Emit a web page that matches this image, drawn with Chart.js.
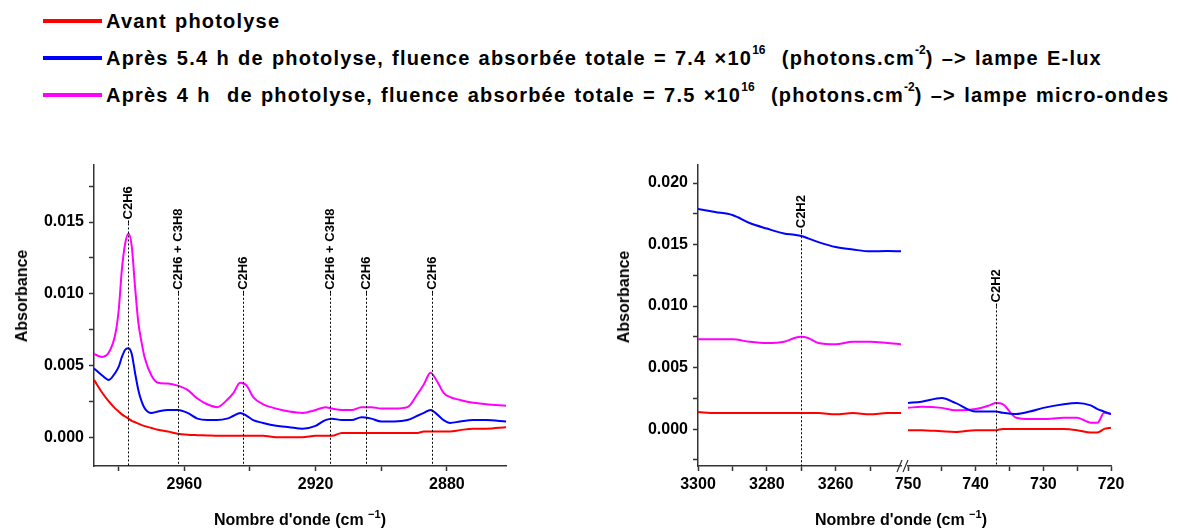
<!DOCTYPE html>
<html>
<head>
<meta charset="utf-8">
<script src="https://cdn.jsdelivr.net/npm/chart.js@4/dist/chart.umd.min.js"></script>
<style>
  body { margin: 0; width: 1179px; height: 531px; background: #fff; position: relative; overflow: hidden;
         font-family: "Liberation Sans", Arial, sans-serif; color: #000; }
  .leg { position: absolute; left: 43px; height: 24px; display: flex; align-items: center;
         font-weight: bold; font-size: 20px; letter-spacing: 1.2px; word-spacing: 1.4px; white-space: nowrap; }
  .leg i { display: inline-block; width: 59px; height: 4px; margin-right: 4px; flex: none; }
  .leg sup { font-size: 12px; line-height: 0; vertical-align: 11px; letter-spacing: 0; }
  canvas { position: absolute; }
  .title { position: absolute; font-weight: bold; font-size: 16px; white-space: nowrap; transform: translate(-50%, -50%); }
  .title.rot { transform: translate(-50%, -50%) rotate(-90deg); }
  .title sup { font-size: 11px; line-height: 0; vertical-align: 7px; }
</style>
</head>
<body>

<div class="leg" style="top:9px"><i style="background:#ff0000"></i><span>Avant photolyse</span></div>
<div class="leg" style="top:46px"><i style="background:#0000ff"></i><span>Après 5.4 h de photolyse, fluence absorbée totale = 7.4 ×10<sup>16</sup>&nbsp; (photons.cm<sup>-2</sup>) –&gt; lampe E-lux</span></div>
<div class="leg" style="top:83px"><i style="background:#ff00ff"></i><span>Après 4 h&nbsp; de photolyse, fluence absorbée totale = 7.5 ×10<sup>16</sup>&nbsp; (photons.cm<sup>-2</sup>) –&gt; lampe micro-ondes</span></div>

<canvas id="left" width="520" height="381" style="left:0;top:150px"></canvas>
<canvas id="rightA" width="315" height="381" style="left:590px;top:150px"></canvas>
<canvas id="rightB" width="250" height="381" style="left:880px;top:150px"></canvas>

<div class="title rot" style="left:22px;top:296px">Absorbance</div>
<div class="title rot" style="left:624px;top:297px">Absorbance</div>
<div class="title" style="left:300px;top:520px">Nombre d'onde (cm <sup>−1</sup>)</div>
<div class="title" style="left:901px;top:520px">Nombre d'onde (cm <sup>−1</sup>)</div>

<script>
// Left panel: 2990 - 2860 cm-1
let leftWn = [2987.5, 2985, 2983, 2981, 2980, 2979, 2978, 2977, 2976, 2975, 2974, 2973, 2972, 2970, 2968,
  2965, 2962, 2959, 2956, 2953, 2950, 2947, 2945, 2943, 2941, 2939, 2936, 2932, 2928, 2924, 2920, 2917,
  2915, 2912, 2909, 2906, 2903, 2900, 2896, 2892, 2889, 2887, 2885, 2883, 2881, 2879, 2876, 2872, 2868, 2862];
let leftAvant = [0.0040, 0.0031, 0.0025, 0.0020, 0.0018, 0.0016, 0.00145, 0.0013, 0.00115, 0.00105, 0.00095, 0.00085, 0.00078, 0.00065, 0.00052,
  0.0004, 0.00025, 0.00018, 0.00015, 0.00013, 0.0001, 0.0001, 0.0001, 0.0001, 0.0001, 0.0001, 0.0001, 0.0000, 0.0000, 0.0000, 0.0001, 0.0001,
  0.0001, 0.0003, 0.0003, 0.0003, 0.0003, 0.0003, 0.0003, 0.0003, 0.0003, 0.0004, 0.0004, 0.0004, 0.0004, 0.0004, 0.0005, 0.0006, 0.0006, 0.0007];
let leftElux = [0.0048, 0.0043, 0.0040, 0.0045, 0.0049, 0.0056, 0.0061, 0.0062, 0.0058, 0.0045, 0.0033, 0.0025, 0.0020, 0.0017, 0.0018,
  0.0019, 0.0019, 0.0017, 0.0013, 0.0012, 0.0012, 0.0013, 0.0015, 0.0017, 0.0015, 0.0012, 0.0010, 0.0008, 0.0007, 0.0006, 0.0008, 0.0012,
  0.0013, 0.0012, 0.0012, 0.0014, 0.0013, 0.0011, 0.0011, 0.0012, 0.0015, 0.0017, 0.0019, 0.0016, 0.0012, 0.0010, 0.0011, 0.0012, 0.0012, 0.0011];
let leftMicro = [0.0058, 0.0056, 0.0059, 0.0072, 0.0088, 0.0117, 0.0135, 0.0142, 0.0133, 0.0105, 0.0080, 0.0066, 0.0055, 0.0043, 0.0038,
  0.00375, 0.0036, 0.0033, 0.0027, 0.0023, 0.0021, 0.0026, 0.0031, 0.0038, 0.0036, 0.0028, 0.0023, 0.0020, 0.0018, 0.0017, 0.0019, 0.0021,
  0.0020, 0.0019, 0.0019, 0.0021, 0.0021, 0.0020, 0.0020, 0.0021, 0.0030, 0.0037, 0.0045, 0.0039, 0.0031, 0.0028, 0.0026, 0.0024, 0.0023, 0.0022];

// Right panel, first segment: 3300 - 3241 cm-1
let rightWnA = [3300, 3295, 3290, 3285, 3280, 3275, 3272, 3270, 3268, 3265, 3260, 3255, 3250, 3245, 3241];
let rightAvantA = [0.00138, 0.0013, 0.0013, 0.0013, 0.0013, 0.0013, 0.0013, 0.0013, 0.0013, 0.0013, 0.0012, 0.0013, 0.0012, 0.0013, 0.0013];
let rightEluxA = [0.0179, 0.01765, 0.0174, 0.01675, 0.0163, 0.0159, 0.0158, 0.0157, 0.0155, 0.0152, 0.0148, 0.0146, 0.01445, 0.01448, 0.01445];
let rightMicroA = [0.0073, 0.0073, 0.0073, 0.0071, 0.0070, 0.0071, 0.0074, 0.0075, 0.0074, 0.0070, 0.0069, 0.0071, 0.0071, 0.0070, 0.0069];

// Right panel, second segment: 750 - 720 cm-1
let rightWnB = [750, 748, 745, 743, 740, 738, 737, 736, 734, 732, 730, 727, 725, 723, 722, 721, 720];
let rightAvantB = [-0.0001, -0.0001, -0.0002, -0.00025, -0.0001, -0.0001, -0.0001, 0, 0, 0, 0, 0, -0.0001, -0.0003, -0.0003, 0, 0.0001];
let rightEluxB = [0.0021, 0.0022, 0.0025, 0.0021, 0.0014, 0.0014, 0.0014, 0.0013, 0.0012, 0.0014, 0.0017, 0.0020, 0.0021, 0.0019, 0.0016, 0.0014, 0.0012];
let rightMicroB = [0.0017, 0.0018, 0.0017, 0.0015, 0.0016, 0.0019, 0.0021, 0.0020, 0.0009, 0.0008, 0.0008, 0.0009, 0.0009, 0.0005, 0.0005, 0.0013, 0.0012];

// Band assignments
let leftBands = [
  { wn: 2977, text: "C2H6", at: 0.0149 },
  { wn: 2962, text: "C2H6 + C3H8", at: 0.0100 },
  { wn: 2942, text: "C2H6", at: 0.0100 },
  { wn: 2915.5, text: "C2H6 + C3H8", at: 0.0100 },
  { wn: 2904.5, text: "C2H6", at: 0.0100 },
  { wn: 2884.5, text: "C2H6", at: 0.0100 }
];
let rightBandsA = [{ wn: 3270, text: "C2H2", at: 0.0160 }];
let rightBandsB = [{ wn: 737, text: "C2H2", at: 0.0099 }];

// Colors
let red = "#ff0000";
let blue = "#0000ff";
let magenta = "#ff00ff";
let axisColor = "#333333";
let fontFamily = '"Liberation Sans", Arial, sans-serif';

function points(xs, ys) {
  return xs.map((x, i) => ({ x: x, y: ys[i] }));
}

function lines(xs, avant, elux, micro) {
  return [
    { data: points(xs, avant), borderColor: red },
    { data: points(xs, elux), borderColor: blue },
    { data: points(xs, micro), borderColor: magenta }
  ].map(d => Object.assign(d, { borderWidth: 2, pointRadius: 0, cubicInterpolationMode: 'monotone', fill: false }));
}

function xAxis(min, max, step, major) {
  return {
    type: 'linear', reverse: true, min: min, max: max,
    afterFit: s => { s.height = 65; },
    border: { color: axisColor, width: 1.5 },
    grid: { drawOnChartArea: false, tickLength: 5, color: axisColor, tickWidth: 1.5 },
    ticks: {
      stepSize: step, includeBounds: false, autoSkip: false, maxRotation: 0, padding: 4, color: '#000',
      font: { family: fontFamily, size: 16, weight: 'bold' },
      callback: v => Math.round(v) % major === 0 ? String(Math.round(v)) : ''
    }
  };
}

function yAxis(min, max, width) {
  return {
    min: min, max: max,
    afterFit: s => { s.width = width; },
    border: { color: axisColor, width: 1.5 },
    grid: { drawOnChartArea: false, tickLength: 5, color: axisColor, tickWidth: 1.5 },
    ticks: {
      stepSize: 0.0025, includeBounds: false, autoSkip: false, padding: 5, color: '#000',
      font: { family: fontFamily, size: 16, weight: 'bold' },
      callback: v => Math.abs(Math.round(v / 0.0025)) % 2 === 0 ? (Math.abs(v) < 1e-9 ? '0.000' : v.toFixed(3)) : ''
    }
  };
}

// dotted marker lines with rotated labels
let bandPlugin = {
  id: 'bands',
  afterDatasetsDraw(chart, args, opts) {
    let ctx = chart.ctx, area = chart.chartArea, x = chart.scales.x, y = chart.scales.y;
    (opts.items || []).forEach(b => {
      let px = Math.round(x.getPixelForValue(b.wn)) + 0.5;
      let py = y.getPixelForValue(b.at);
      ctx.save();
      ctx.strokeStyle = '#000';
      ctx.lineWidth = 1;
      ctx.setLineDash([2, 2]);
      ctx.beginPath();
      ctx.moveTo(px, py);
      ctx.lineTo(px, area.bottom);
      ctx.stroke();
      ctx.setLineDash([]);
      ctx.beginPath();
      ctx.moveTo(px, py);
      ctx.lineTo(px, py - 3);
      ctx.stroke();
      ctx.translate(px, py - 4);
      ctx.rotate(-Math.PI / 2);
      ctx.fillStyle = '#000';
      ctx.font = 'bold 13px ' + fontFamily;
      ctx.textAlign = 'left';
      ctx.textBaseline = 'middle';
      ctx.fillText(b.text, 0, 0);
      ctx.restore();
    });
  }
};

// "//" axis break in front of the second segment
let breakPlugin = {
  id: 'axisBreak',
  afterDraw(chart) {
    let ctx = chart.ctx, a = chart.chartArea;
    ctx.save();
    ctx.strokeStyle = axisColor;
    ctx.lineWidth = 1.2;
    ctx.beginPath();
    ctx.moveTo(a.left - 11, a.bottom + 6);
    ctx.lineTo(a.left - 6, a.bottom - 6);
    ctx.moveTo(a.left - 5, a.bottom + 6);
    ctx.lineTo(a.left, a.bottom - 6);
    ctx.stroke();
    ctx.restore();
  }
};

function baseOptions(padding, scales, bands) {
  return {
    responsive: false,
    animation: false,
    devicePixelRatio: 1,
    layout: { padding: padding },
    plugins: { legend: { display: false }, tooltip: { enabled: false }, bands: { items: bands } },
    scales: scales
  };
}

// Create left chart
new Chart(document.getElementById("left").getContext('2d'), {
  type: 'line',
  data: { datasets: lines(leftWn, leftAvant, leftElux, leftMicro) },
  options: baseOptions({ top: 13, right: 14, left: 0, bottom: 0 },
    { x: xAxis(2862, 2987.5, 20, 40), y: yAxis(-0.002, 0.019, 94) }, leftBands),
  plugins: [bandPlugin]
});

// Create right chart, first segment
new Chart(document.getElementById("rightA").getContext('2d'), {
  type: 'line',
  data: { datasets: lines(rightWnA, rightAvantA, rightEluxA, rightMicroA) },
  options: baseOptions({ top: 13, right: 4, left: 0, bottom: 0 },
    { x: xAxis(3241, 3300, 10, 20), y: yAxis(-0.003, 0.0215, 108) }, rightBandsA),
  plugins: [bandPlugin]
});

// Create right chart, second segment (shares the y range, axis hidden)
let yHidden = yAxis(-0.003, 0.0215, 0);
yHidden.display = false;
new Chart(document.getElementById("rightB").getContext('2d'), {
  type: 'line',
  data: { datasets: lines(rightWnB, rightAvantB, rightEluxB, rightMicroB) },
  options: baseOptions({ top: 13, right: 19, left: 28, bottom: 0 },
    { x: xAxis(720, 750, 5, 10), y: yHidden }, rightBandsB),
  plugins: [bandPlugin, breakPlugin]
});
</script>
</body>
</html>
